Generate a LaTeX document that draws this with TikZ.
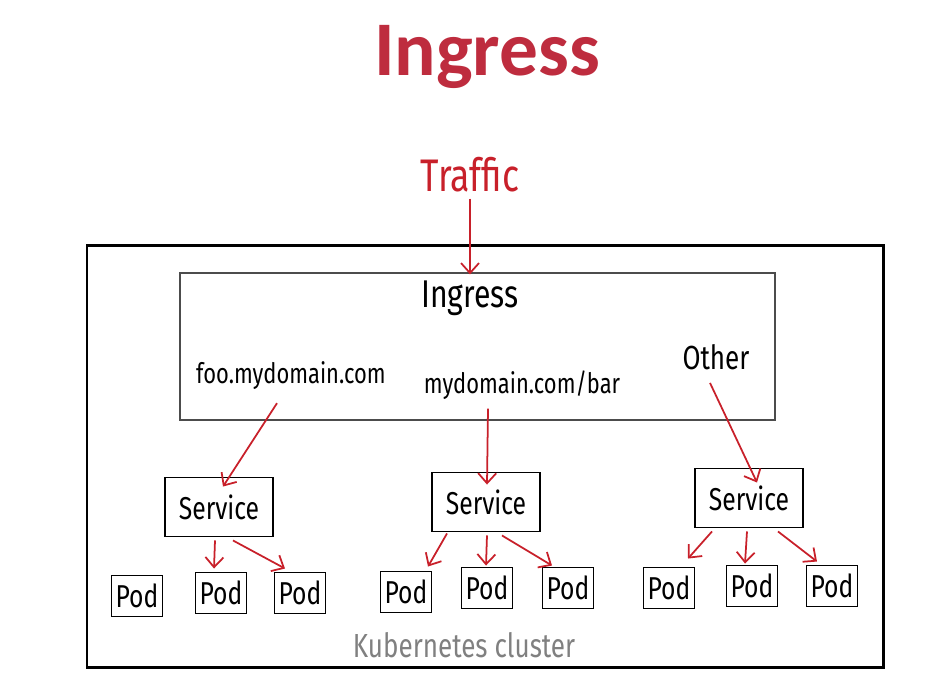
\documentclass[tikz,border=0pt]{standalone}
\usepackage{fontspec}
\usetikzlibrary{calc,arrows.meta}
\newfontfamily\titlefont{Carlito}
\newfontfamily\handfont[FakeStretch=0.78]{Fira Sans}
\definecolor{titlered}{HTML}{BE2C3E}
\definecolor{arrowred}{HTML}{C8202A}
\definecolor{clustergray}{HTML}{808080}
\begin{document}
\begin{tikzpicture}[x=0.2mm,y=-0.2mm,
    hand/.style={font=\handfont\fontsize{#1}{#1}\selectfont},
    svcbox/.style={draw,line width=1.1pt,minimum width=21.6mm,minimum height=11.8mm,inner sep=0pt,hand=18},
    podbox/.style={draw,line width=1.1pt,minimum width=10.2mm,minimum height=8.2mm,inner sep=0pt,hand=18},
    arr/.style={-{Straight Barb[length=2mm,width=3.6mm]},draw=arrowred,line width=1pt}]
    \useasboundingbox (0,0) rectangle (936,699);

    % Title
    \node[font=\titlefont\bfseries\fontsize{44}{44}\selectfont,text=titlered] (title) at (487,57) {Ingress};
    \node[hand=26,text=arrowred] (traffic) at (470,175) {Traffic};

    % Cluster and ingress frames
    \draw[line width=1.7pt] (87,245) rectangle (883,667);
    \draw[line width=1.1pt,draw=black!70] (180,273) rectangle (775,420);
    \node[hand=22] (ingtext) at (470,298) {Ingress};
    \node[hand=16] (foo) at (291,376) {foo.mydomain.com};
    \node[hand=16] (mydom) at (522,385) {mydomain.com/bar};
    \node[hand=19] (other) at (716,357) {Other};
    \node[hand=19,text=clustergray] (kube) at (464,645) {Kubernetes cluster};

    % Services
    \node[svcbox] (svcA) at (219,507) {Service};
    \node[svcbox] (svcB) at (486,502) {Service};
    \node[svcbox] (svcC) at (749,498) {Service};

    % Pods
    \node[podbox] (podA1) at (137,596) {Pod};
    \node[podbox] (podA2) at (221,593) {Pod};
    \node[podbox] (podA3) at (300,593) {Pod};
    \node[podbox] (podB1) at (406,592) {Pod};
    \node[podbox] (podB2) at (487,588) {Pod};
    \node[podbox] (podB3) at (568,588) {Pod};
    \node[podbox] (podC1) at (669,588) {Pod};
    \node[podbox] (podC2) at (752,586) {Pod};
    \node[podbox] (podC3) at (832,586) {Pod};

    % Routing
    \draw[arr] (traffic) -- (ingtext);
    \draw[arr] ($(foo.south)+(-14,7)$) -- ($(svcA.north)+(4,10)$);
    \draw[arr] ($(mydom.south)+(-34,3)$) -- ($(svcB.north)+(1,13)$);
    \draw[arr] ($(other.south)+(-6,7)$) -- ($(svcC.north)+(8,15)$);

    % Service to pods
    \draw[arr] ($(svcA.south)+(-4,3)$) -- ($(podA2.north)+(-7,-3)$);
    \draw[arr] ($(svcA.south)+(14,3)$) -- ($(podA3.north)+(-15,-3)$);
    \draw[arr] ($(svcB.south)+(-39,1)$) -- ($(podB1.north)+(22,-4)$);
    \draw[arr] ($(svcB.south)+(1,3)$) -- ($(podB2.north)+(-1,-1)$);
    \draw[arr] ($(svcB.south)+(16,3)$) -- ($(podB3.north)+(-16,-1)$);
    \draw[arr] ($(svcC.south)+(-37,3)$) -- ($(podC1.north)+(19,-8)$);
    \draw[arr] ($(svcC.south)+(-2,3)$) -- ($(podC2.north)+(-7,-1)$);
    \draw[arr] ($(svcC.south)+(29,3)$) -- ($(podC3.north)+(-15,-3)$);
\end{tikzpicture}
\end{document}
